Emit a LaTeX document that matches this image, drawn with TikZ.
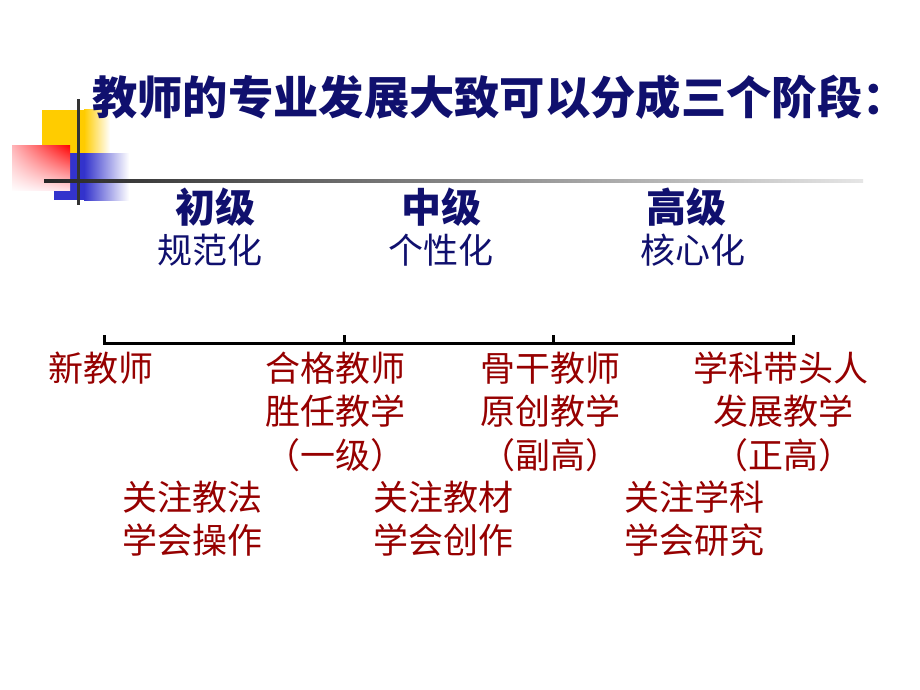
\documentclass[tikz,border=0pt]{standalone}
\usepackage{fontspec}
\usetikzlibrary{shadings}
\newfontfamily\cjk{Noto Sans CJK SC}
\definecolor{navy}{RGB}{16,16,110}
\definecolor{darkred}{RGB}{150,0,0}
\definecolor{yel}{RGB}{255,204,0}
\definecolor{blu}{RGB}{51,51,204}
\definecolor{rd}{RGB}{255,0,0}
\definecolor{pk}{RGB}{255,225,230}
\begin{document}
\begin{tikzpicture}[x=1pt,y=-1pt,
  title/.style={font=\cjk\bfseries\fontsize{45.3}{45}\selectfont, text=navy, inner sep=0pt, anchor=west},
  stage/.style={font=\cjk\bfseries\fontsize{40}{40}\selectfont, text=navy, inner sep=0pt},
  stagesub/.style={font=\cjk\fontsize{35}{35}\selectfont, text=navy, inner sep=0pt},
  lbl/.style={font=\cjk\fontsize{35}{35}\selectfont, text=darkred, inner sep=0pt, anchor=west},
  axis/.style={line width=3pt, black},
]
\useasboundingbox (0,0) rectangle (920,690);
\fill[white] (0,0) rectangle (920,690);
% decoration squares
\fill[yel] (42,110) rectangle (84,165);
\shade[left color=yel, right color=white] (84,110) rectangle (110,165);
\fill[blu] (54,153) rectangle (84,200);
\shade[left color=blu, right color=white] (84,153) rectangle (129,200);
\shade[upper left=pk!80!rd, upper right=rd, lower left=white!90!pk, lower right=pk] (12,145) rectangle (70,190);
\fill[black!80] (76.5,99) rectangle (79.5,205);
\shade[left color=black!85, right color=black!10] (44,179.5) rectangle (863,182.5);
% title
\node[title] (title) at (92,97) {教师的专业发展大致可以分成三个阶段：};
% stages
\node[stage] (s1) at (215,207) {初级};
\node[stagesub] (s1b) at (210,250) {规范化};
\node[stage] (s2) at (441,207) {中级};
\node[stagesub] (s2b) at (441,250) {个性化};
\node[stage] (s3) at (686,207) {高级};
\node[stagesub] (s3b) at (693,250) {核心化};
% timeline
\coordinate (t1) at (104,343);
\coordinate (t2) at (344,343);
\coordinate (t3) at (553,343);
\coordinate (t4) at (793,343);
\coordinate (u1) at (104,335);
\coordinate (u2) at (344,335);
\coordinate (u3) at (553,335);
\coordinate (u4) at (793,335);
\draw[axis, line cap=butt] (u1) -- (t1) -- (t4) -- (u4);
\draw[axis] (t2) -- (u2);
\draw[axis] (t3) -- (u3);
% labels
\node[lbl] (a1) at (48,368) {新教师};
\node[lbl] (b1) at (265,368) {合格教师};
\node[lbl] (b2) at (265,411) {胜任教学};
\node[lbl] (b3) at (265,455) {（一级）};
\node[lbl] (c1) at (480,368) {骨干教师};
\node[lbl] (c2) at (480,411) {原创教学};
\node[lbl] (c3) at (480,455) {（副高）};
\node[lbl] (d1) at (693,368) {学科带头人};
\node[lbl] (d2) at (713,411) {发展教学};
\node[lbl] (d3) at (713,455) {（正高）};
\node[lbl] (e1) at (122,497) {关注教法};
\node[lbl] (e2) at (122,540) {学会操作};
\node[lbl] (f1) at (373,497) {关注教材};
\node[lbl] (f2) at (373,540) {学会创作};
\node[lbl] (g1) at (624,497) {关注学科};
\node[lbl] (g2) at (624,540) {学会研究};
\end{tikzpicture}
\end{document}
